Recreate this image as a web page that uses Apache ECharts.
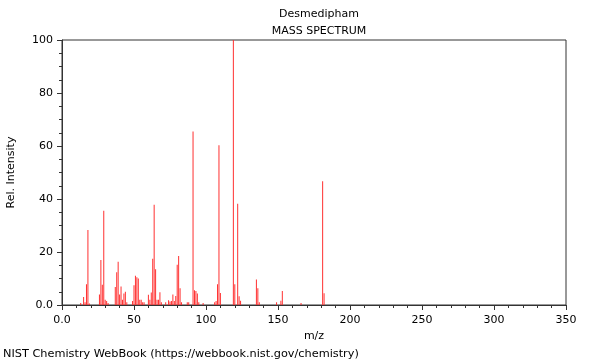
<!DOCTYPE html>
<html><head><meta charset="utf-8">
<script src="https://cdn.jsdelivr.net/npm/echarts@6/dist/echarts.min.js"></script>
<style>html,body{margin:0;padding:0;background:#fff}#c{width:600px;height:360px}</style>
</head><body><div id="c"></div>
<script>
const mz = [13,15,16,17,18,19,26,27,28,29,30,31,32,37,38,39,40,41,42,43,44,45,49,50,51,52,53,54,55,56,57,60,61,62,63,64,65,66,67,68,69,72,74,75,76,77,78,79,80,81,82,83,87,88,91,92,93,94,95,98,106,107,108,109,110,119,120,122,123,124,135,136,137,149,152,153,166,181,182];
const intensity = [0.8,3,1,7.8,28.3,0.6,4,17,7.6,35.6,2,1.5,0.8,6.8,12.4,16.3,4,7,2,4.3,5,1,1.5,7.5,11,10.5,10,2,2,1,1,3.9,2,4.7,17.5,37.8,13.5,2,2,4.8,1,1,1.8,1.3,1.5,4,1.5,3.4,15.2,18.5,6.3,1,1,1,65.5,5.6,5.3,4.3,1,0.8,1,1.5,7.8,60.3,4.5,100,7.8,38.2,3.3,1.6,9.6,6.3,1,1,1.6,5.3,0.8,46.7,4.4];
const xTicks = [0,50,100,150,200,250,300,350];
const yTicks = [0,20,40,60,80,100];
const title1 = 'Desmedipham', title2 = 'MASS SPECTRUM';
const data = mz.map((m,i)=>[m,intensity[i]]);
const chart = echarts.init(document.getElementById('c'));
const ff = 'DejaVu Sans';
chart.setOption({
  animation:false,
  textStyle:{fontFamily:ff},
  title:[
    {text:title1,left:314,top:4,textAlign:'center',textStyle:{fontSize:11,fontWeight:'normal',color:'#000',fontFamily:ff}},
    {text:title2,left:314,top:21,textAlign:'center',textStyle:{fontSize:11,fontWeight:'normal',color:'#000',fontFamily:ff}},
    {text:'NIST Chemistry WebBook (https://webbook.nist.gov/chemistry)',left:-2,top:344,textStyle:{fontSize:11.3,fontWeight:'normal',color:'#000',fontFamily:ff}}
  ],
  grid:{left:62,right:34,top:40,bottom:55,containLabel:false,outerBoundsMode:'none',show:true,borderColor:'#333',borderWidth:1,backgroundColor:'transparent'},
  xAxis:{type:'value',min:0,max:350,interval:50,
    name:'m/z',nameLocation:'middle',nameGap:25,nameTextStyle:{fontSize:11,color:'#000',fontFamily:ff},
    axisLine:{lineStyle:{color:'#333'}},
    axisTick:{length:5,lineStyle:{color:'#333'}},
    minorTick:{show:true,splitNumber:5,length:3,lineStyle:{color:'#333'}},
    splitLine:{show:false},
    axisLabel:{fontSize:11,color:'#000',margin:10,fontFamily:ff,formatter:v=>v===0?'0.0':String(v)}},
  yAxis:{type:'value',min:0,max:100,interval:20,
    name:'Rel. Intensity',nameLocation:'middle',nameGap:45,nameTextStyle:{fontSize:11,color:'#000',fontFamily:ff},
    axisLine:{show:true,lineStyle:{color:'#333'}},
    axisTick:{show:true,length:5,lineStyle:{color:'#333'}},
    minorTick:{show:true,splitNumber:4,length:3,lineStyle:{color:'#333'}},
    splitLine:{show:false},
    axisLabel:{fontSize:11,color:'#000',margin:9,fontFamily:ff,formatter:v=>v===0?'0.0':String(v)}},
  series:[{type:'bar',data:data,barWidth:1,itemStyle:{color:'#ff3030'},silent:true}]
});
</script></body></html>
